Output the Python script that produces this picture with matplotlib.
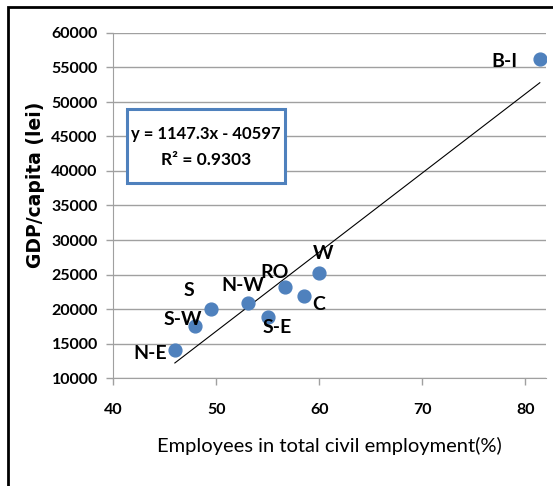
import matplotlib
matplotlib.use('Agg')
import matplotlib.pyplot as plt
import matplotlib.patches as mp

# 지역별 데이터
regions = ['N-E', 'S-W', 'S', 'N-W', 'S-E', 'RO', 'C', 'W', 'B-I']
employees = [46.0, 47.95, 49.55, 53.1, 55.05, 56.7, 58.5, 60.0, 81.4]
gdp = [14000, 17500, 20000, 20900, 18900, 23250, 21850, 25250, 56200]

# 추세선 계수 (그림의 식)
slope = 1147.3
intercept = -40597
r2 = 0.9303

# 라벨 위치 오프셋 (pixel)
label_offsets = {
    'N-E': (-25, -3), 'S-W': (-12, 7), 'S': (-23, 19), 'N-W': (-5, 17),
    'S-E': (9, -11), 'RO': (-11, 14), 'C': (15, -8), 'W': (4, 19),
    'B-I': (-35, -2),
}

W, H = 553, 486
fig = plt.figure(figsize=(W / 100, H / 100), dpi=100)
ax = fig.add_axes([113 / W, 1 - 378 / H, (546 - 113) / W, (378 - 33) / H])

narrow = ['Lato', 'DejaVu Sans']

# 테두리
fig.patches.append(mp.Rectangle((8 / W, -0.1), 1.2, 1 - 7 / H + 0.1,
                                transform=fig.transFigure, fill=False,
                                edgecolor='black', linewidth=2))

ax.set_xlim(40, 82)
ax.set_ylim(10000, 60000)
ax.set_xticks([40, 50, 60, 70, 80])
ax.set_yticks(range(10000, 60001, 5000))
ax.grid(axis='y', color='#a0a0a0', linewidth=1)
ax.set_axisbelow(True)
for s in ['top', 'right']:
    ax.spines[s].set_visible(False)
for s in ['left', 'bottom']:
    ax.spines[s].set_color('#a0a0a0')
ax.tick_params(colors='#a0a0a0', length=5, width=1, labelcolor='black')
for lbl in ax.get_xticklabels() + ax.get_yticklabels():
    lbl.set_family(narrow)
    lbl.set_fontsize(11.5)
    lbl.set_fontweight('bold')
ax.tick_params(axis='x', pad=13)
ax.tick_params(axis='y', pad=6)

# 추세선
x0, x1 = min(employees), max(employees)
ax.plot([x0, x1], [slope * x0 + intercept, slope * x1 + intercept],
        color='black', linewidth=0.8, zorder=2)

ax.scatter(employees, gdp, s=85, color='#4f81bd', zorder=3)

for name, xv, yv in zip(regions, employees, gdp):
    dx, dy = label_offsets[name]
    ax.annotate(name, (xv, yv), xytext=(dx, dy), textcoords='offset pixels',
                ha='center', va='center', fontsize=14, fontweight='bold',
                family=narrow, zorder=4)

# 식 박스
ax.add_patch(mp.Rectangle((0.032, 0.565), 0.365, 0.215, transform=ax.transAxes,
                          facecolor='white', edgecolor='#4f81bd',
                          linewidth=2.2, zorder=5))
ax.text(0.215, 0.708, f'y = {slope}x - {-intercept}', transform=ax.transAxes,
        ha='center', va='center', fontsize=12, fontweight='bold',
        family=narrow, zorder=6)
ax.text(0.215, 0.632, f'R² = {r2}', transform=ax.transAxes,
        ha='center', va='center', fontsize=12.5, fontweight='bold',
        family=narrow, zorder=6)

ax.set_xlabel('Employees in total civil employment(%)', fontsize=14.5,
              family=narrow)
ax.xaxis.set_label_coords(0.5, -0.171)
ax.set_ylabel('GDP/capita (lei)', fontsize=13.5, fontweight='bold')
ax.yaxis.set_label_coords(-0.157, 0.559)

fig.savefig('out.png', dpi=100)
